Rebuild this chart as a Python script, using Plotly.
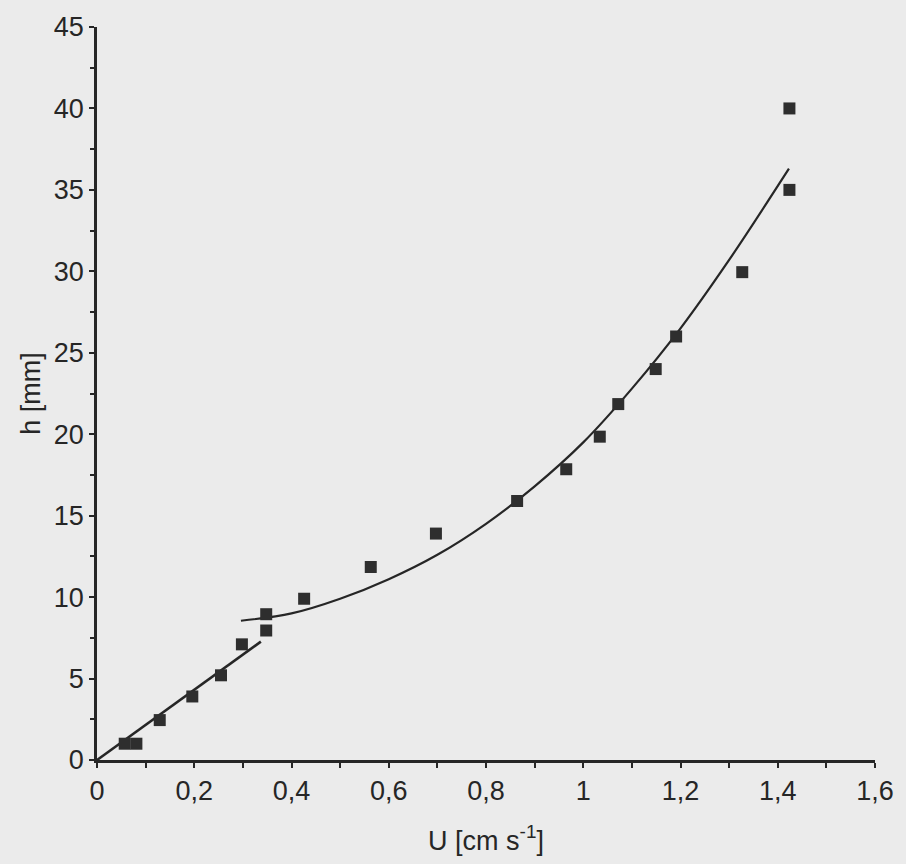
import plotly.graph_objects as go

# Measured points
u_points = [0.057, 0.081, 0.129, 0.196, 0.255, 0.298, 0.348, 0.348, 0.426, 0.563,
            0.697, 0.864, 0.965, 1.034, 1.072, 1.149, 1.191, 1.327, 1.424, 1.424]
h_points = [1.0, 1.0, 2.45, 3.9, 5.2, 7.1, 7.95, 8.95, 9.9, 11.85,
            13.9, 15.9, 17.85, 19.85, 21.85, 24.0, 26.0, 29.95, 35.0, 40.0]

# Straight fit line (lower part)
u_line = [0.0, 0.337]
h_line = [0.0, 7.27]

# Fitted curve (upper part)
u_curve = [0.296, 0.4, 0.5, 0.6, 0.7, 0.8, 0.9, 1.0, 1.1, 1.2, 1.3, 1.423]
h_curve = [8.55, 9.0, 9.9, 11.1, 12.6, 14.5, 16.8, 19.5, 22.8, 26.5, 30.7, 36.3]

ink = "#262626"
bg = "#ebebeb"

fig = go.Figure()
fig.add_trace(go.Scatter(x=u_line, y=h_line, mode="lines",
                         line=dict(color=ink, width=2.6), showlegend=False))
fig.add_trace(go.Scatter(x=u_curve, y=h_curve, mode="lines",
                         line=dict(color=ink, width=2.2, shape="spline", smoothing=1.0),
                         showlegend=False))
fig.add_trace(go.Scatter(x=u_points, y=h_points, mode="markers",
                         marker=dict(symbol="square", size=12, color="#2e2e2e"),
                         showlegend=False))

font_family = "Liberation Sans, Arial, sans-serif"
fig.update_layout(
    width=906, height=864,
    margin=dict(l=97, r=28, t=27, b=104),
    paper_bgcolor=bg, plot_bgcolor=bg,
    separators=",.",
    font=dict(family=font_family, size=27, color=ink),
    xaxis=dict(range=[0, 1.6], dtick=0.2, tick0=0, showgrid=False, zeroline=False,
               showline=True, linecolor=ink, linewidth=2.5,
               ticks="outside", ticklen=5, tickwidth=2, tickcolor=ink,
               minor=dict(dtick=0.1, ticks="outside", ticklen=5, tickwidth=2, tickcolor=ink),
               tickfont=dict(family=font_family, size=27, color=ink),
               title=dict(text="U [cm s<sup>-1</sup>]",
                          font=dict(family=font_family, size=27, color=ink), standoff=26)),
    yaxis=dict(range=[0, 45], dtick=5, tick0=0, showgrid=False, zeroline=False,
               showline=True, linecolor=ink, linewidth=2.5,
               ticks="outside", ticklen=5, tickwidth=2, tickcolor=ink,
               minor=dict(dtick=2.5, ticks="outside", ticklen=4, tickwidth=2, tickcolor=ink),
               tickfont=dict(family=font_family, size=27, color=ink),
               title=dict(text="h [mm]",
                          font=dict(family=font_family, size=27, color=ink), standoff=6)),
)

fig.write_html("out.html")
